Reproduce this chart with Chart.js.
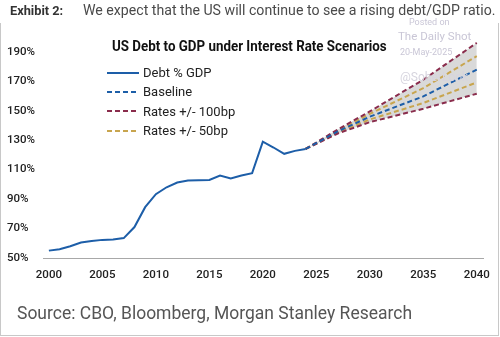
<!DOCTYPE html>
<html>
<head>
  <meta charset="utf-8">
  <script src="https://cdn.jsdelivr.net/npm/chart.js@4.4.1/dist/chart.umd.min.js"></script>
  <style>
    body { margin: 0; background: #fff; font-family: Roboto, sans-serif; }
    #wrap { position: relative; width: 500px; height: 337px; overflow: hidden; }
    #frame { position: absolute; left: 0; top: 23px; width: 497px; height: 312px;
      border-left: 1px solid #c8c8c8; border-right: 1px solid #c8c8c8; border-bottom: 1px solid #c8c8c8; }
    .hd { position: absolute; top: 2px; white-space: nowrap; transform-origin: left top; }
    #hd1 { left: 10px; font-size: 13.5px; font-weight: bold; color: #333; }
    #hd2 { left: 83px; font-size: 14px; color: #4a4a4a; }
    #title { position: absolute; left: 112px; top: 37px; font-size: 15px; font-weight: bold; color: #111;
      white-space: nowrap; transform-origin: left top; }
    #legend { position: absolute; left: 107px; top: 63px; font-size: 13px; color: #222; }
    .item { height: 19.3px; display: flex; align-items: center; white-space: nowrap; }
    .item svg { margin-right: 4px; }
    .wm { position: absolute; color: #c9c6d6; white-space: nowrap; }
    #source { position: absolute; left: 17px; top: 301px; font-size: 19px; color: #555; white-space: nowrap;
      transform-origin: left top; }
    canvas { position: absolute; left: 0; top: 0; }
  </style>
</head>
<body>
<div id="wrap">
  <div id="frame"></div>
  <canvas id="myChart" width="500" height="337"></canvas>
  <div class="hd" id="hd1">Exhibit 2:</div>
  <div class="hd" id="hd2">We expect that the US will continue to see a rising debt/GDP ratio.</div>
  <div class="wm" style="left:409px;top:17px;font-size:9px;">Posted on</div>
  <div class="wm" style="left:398px;top:29px;font-size:11.5px;">The Daily Shot</div>
  <div class="wm" style="left:400px;top:47px;font-size:9px;">20-May-2025</div>
  <div class="wm" style="left:400px;top:70px;font-size:12px;color:#d6d4de;">@SoberLook</div>
  <div id="title">US Debt to GDP under Interest Rate Scenarios</div>
  <div id="legend"></div>
  <div id="source">Source: CBO, Bloomberg, Morgan Stanley Research</div>
</div>

<script>
  // historical debt / GDP
  const years = [2000, 2001, 2002, 2003, 2004, 2005, 2006, 2007, 2008, 2009, 2010, 2011, 2012,
    2013, 2014, 2015, 2016, 2017, 2018, 2019, 2020, 2021, 2022, 2023, 2024];
  const debt = [55, 56, 58, 60.5, 61.5, 62.3, 62.5, 63.5, 71, 84.5, 93.3, 98, 101.2,
    102.6, 102.8, 103, 106, 104, 106, 107.6, 129, 125, 120.7, 122.7, 124];

  // projections
  const projYears = [2024, 2027, 2030, 2035, 2040];
  const baseline = [124, 135.9, 145.9, 159.7, 177.8];
  const up100 = [124, 137.2, 149.5, 171, 196];
  const down100 = [124, 134.5, 142.2, 151.3, 161.5];
  const up50 = [124, 136.5, 147.8, 165.3, 187];
  const down50 = [124, 135.2, 144, 155.2, 169.2];

  const xTicks = [2000, 2005, 2010, 2015, 2020, 2025, 2030, 2035, 2040];
  const yTicks = [50, 70, 90, 110, 130, 150, 170, 190];

  const blue = '#1d5ea8';
  const maroon = '#8a2c4c';
  const gold = '#c8a54e';

  function pts(xs, ys) {
    return xs.map((x, i) => ({ x: x, y: ys[i] }));
  }

  const data = {
    datasets: [{
      label: 'Debt % GDP',
      data: pts(years, debt),
      borderColor: blue,
      borderWidth: 2
    }, {
      label: 'Baseline',
      data: pts(projYears, baseline),
      borderColor: blue,
      borderWidth: 2,
      borderDash: [5, 3]
    }, {
      label: 'Rates +/- 100bp',
      data: pts(projYears, up100),
      borderColor: maroon,
      borderWidth: 2,
      borderDash: [5, 3],
      fill: 4,
      backgroundColor: '#d9d9d9'
    }, {
      label: 'Rates +/- 50bp',
      data: pts(projYears, up50),
      borderColor: gold,
      borderWidth: 2,
      borderDash: [5, 3]
    }, {
      label: '',
      data: pts(projYears, down100),
      borderColor: maroon,
      borderWidth: 2,
      borderDash: [5, 3]
    }, {
      label: '',
      data: pts(projYears, down50),
      borderColor: gold,
      borderWidth: 2,
      borderDash: [5, 3]
    }]
  };

  const config = {
    type: 'line',
    data: data,
    options: {
      responsive: false,
      animation: false,
      events: [],
      layout: { padding: { left: 7, right: 10, top: 37, bottom: 53 } },
      elements: { point: { radius: 0 }, line: { tension: 0 } },
      scales: {
        x: {
          type: 'linear',
          min: 1999.45,
          max: 2040.65,
          afterBuildTicks: (axis) => { axis.ticks = xTicks.map(v => ({ value: v })); },
          afterFit: (axis) => { axis.height = 26; },
          grid: { display: false, drawTicks: false },
          border: { display: true, color: '#a8a8a8', width: 1 },
          ticks: {
            padding: 10,
            maxRotation: 0,
            color: '#222',
            font: { family: 'Roboto', size: 11.5, weight: '500' },
            callback: (v) => String(v)
          }
        },
        y: {
          min: 50,
          max: 200,
          afterBuildTicks: (axis) => { axis.ticks = yTicks.map(v => ({ value: v })); },
          afterFit: (axis) => { axis.width = 36; },
          grid: { display: false, drawTicks: false },
          border: { display: false },
          ticks: {
            crossAlign: 'far',
            color: '#222',
            font: { family: 'Roboto', size: 11.5, weight: '500' },
            callback: (v) => v + '%'
          }
        }
      },
      plugins: {
        legend: { display: false },
        tooltip: { enabled: false },
        filler: { drawTime: 'beforeDatasetsDraw' }
      }
    }
  };

  var chart = new Chart(document.getElementById('myChart'), config);

  // legend inside the plot, built from the chart's own datasets
  var legend = document.getElementById('legend');
  chart.data.datasets.forEach(function (ds) {
    if (!ds.label) return;
    var dash = ds.borderDash ? ds.borderDash.join(',') : 'none';
    legend.innerHTML += '<div class="item"><svg width="32" height="4"><line x1="0" y1="2" x2="32" y2="2" stroke="' +
      ds.borderColor + '" stroke-width="2" stroke-dasharray="' + dash + '"/></svg>' + ds.label + '</div>';
  });

  // fit texts to the widths they have in the original
  function fit(id, w) {
    var el = document.getElementById(id);
    el.style.transform = 'scaleX(' + (w / el.offsetWidth) + ')';
  }
  fit('title', 275);
  fit('hd1', 53);
  fit('hd2', 412);
  fit('source', 395);
</script>
</body>
</html>
